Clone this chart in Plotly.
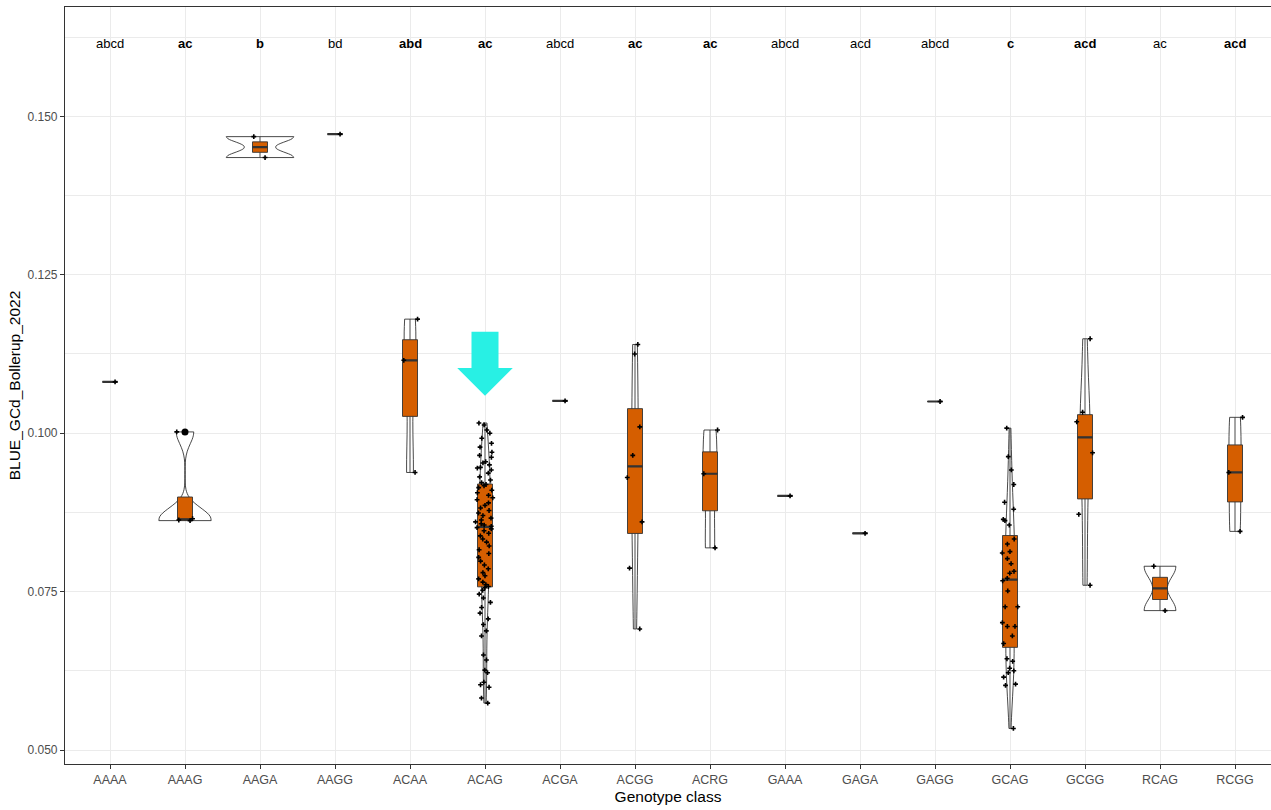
import numpy as np
import plotly.graph_objects as go

# ---------------- data ----------------
categories = ["AAAA", "AAAG", "AAGA", "AAGG", "ACAA", "ACAG", "ACGA", "ACGG",
              "ACRG", "GAAA", "GAGA", "GAGG", "GCAG", "GCGG", "RCAG", "RCGG"]

vals_AAAA = [0.1081]
vals_AAAG = [0.0862, 0.0863, 0.0865, 0.1002]
vals_AAGA = [0.1435, 0.1468]
vals_AAGG = [0.1472]
vals_ACAA = [0.0938, 0.1115, 0.1180]
vals_ACAG = [0.0574, 0.0582, 0.0599, 0.0603, 0.0607, 0.0622, 0.0626, 0.0642, 0.0650, 0.0680,
             0.0688, 0.0698, 0.0707, 0.0716, 0.0725, 0.0733, 0.0740, 0.0746, 0.0752, 0.0756,
             0.0758, 0.0761, 0.0765, 0.0770, 0.0775, 0.0780, 0.0786, 0.0792, 0.0798, 0.0804,
             0.0810, 0.0816, 0.0822, 0.0828, 0.0833, 0.0838, 0.0842, 0.0846, 0.0849, 0.0851,
             0.0853, 0.0855, 0.0857, 0.0860, 0.0863, 0.0866, 0.0870, 0.0874, 0.0878, 0.0882,
             0.0886, 0.0890, 0.0895, 0.0898, 0.0902, 0.0906, 0.0910, 0.0914, 0.0917, 0.0919,
             0.0922, 0.0926, 0.0931, 0.0937, 0.0942, 0.0945, 0.0946, 0.0950, 0.0953, 0.0955,
             0.0962, 0.0965, 0.0970, 0.0978, 0.0984, 0.0992, 0.1000, 0.1005, 0.1013, 0.1016]
vals_ACGA = [0.1051]
vals_ACGG = [0.0691, 0.0787, 0.0860, 0.0930, 0.0965, 0.1010, 0.1125, 0.1140]
vals_ACRG = [0.0819, 0.0936, 0.1005]
vals_GAAA = [0.0901]
vals_GAGA = [0.0842]
vals_GAGG = [0.1050]
vals_GCAG = [0.0534, 0.0602, 0.0604, 0.0615, 0.0622, 0.0625, 0.0629, 0.0640, 0.0644, 0.0668,
             0.0680, 0.0695, 0.0695, 0.0701, 0.0726, 0.0726, 0.0751, 0.0767, 0.0771, 0.0779,
             0.0782, 0.0794, 0.0802, 0.0811, 0.0813, 0.0825, 0.0833, 0.0855, 0.0862, 0.0864,
             0.0880, 0.0891, 0.0919, 0.0942, 0.0963, 0.1008]
vals_GCGG = [0.0760, 0.0872, 0.0969, 0.1018, 0.1033, 0.1149]
vals_RCAG = [0.0720, 0.0790]
vals_RCGG = [0.0845, 0.0938, 0.1025]

group_values = [vals_AAAA, vals_AAAG, vals_AAGA, vals_AAGG, vals_ACAA, vals_ACAG,
                vals_ACGA, vals_ACGG, vals_ACRG, vals_GAAA, vals_GAGA, vals_GAGG,
                vals_GCAG, vals_GCGG, vals_RCAG, vals_RCGG]

letters = ["abcd", "ac", "b", "bd", "abd", "ac", "abcd", "ac",
           "ac", "abcd", "acd", "abcd", "c", "acd", "ac", "acd"]
letters_bold = [False, True, True, False, True, True, False, True,
                True, False, False, False, True, True, False, True]
letter_y = 0.1615

highlight_category = "ACAG"

# ---------------- styles ----------------
FONT = "Liberation Sans, Arial, sans-serif"
BOX_FILL = "#D55E00"
DARK = "#333333"
GRID = "#EBEBEB"
TICK_COL = "#4D4D4D"
ARROW_COL = "#28F0E4"
BOX_W = 0.2
JITTER_W = 0.26
VIOLIN_MAX_W = 0.9


def bw_nrd0(x):
    x = np.asarray(x, float)
    n = len(x)
    hi = np.std(x, ddof=1)
    q75, q25 = np.quantile(x, [0.75, 0.25])
    lo = min(hi, (q75 - q25) / 1.34)
    if lo <= 0:
        lo = hi if hi > 0 else (abs(x[0]) if x[0] != 0 else 1.0)
    return 0.9 * lo * n ** (-0.2)


def max_density(x, bw):
    x = np.asarray(x, float)
    grid = np.linspace(x.min(), x.max(), 512)
    z = (grid[:, None] - x[None, :]) / bw
    d = np.exp(-0.5 * z ** 2).sum(axis=1) / (len(x) * bw * np.sqrt(2 * np.pi))
    return d.max()


# area-scaled violin widths (like ggplot scale = "area")
bws = {}
dens = {}
for cat, v in zip(categories, group_values):
    if len(v) >= 2:
        b = bw_nrd0(v)
        bws[cat] = b
        dens[cat] = max_density(v, b)
global_max = max(dens.values())

fig = go.Figure()

# violins
for cat, v in zip(categories, group_values):
    if len(v) < 2:
        continue
    fig.add_trace(go.Violin(
        x=[cat] * len(v), y=v, width=VIOLIN_MAX_W * dens[cat] / global_max,
        scalemode="width", spanmode="hard", bandwidth=bws[cat],
        fillcolor="white", line=dict(color="#1a1a1a", width=0.8),
        points=False, box_visible=False, meanline_visible=False,
        showlegend=False, hoverinfo="skip"))

# boxes (ggplot style stats)
outlier_x, outlier_y = [], []
for cat, v in zip(categories, group_values):
    a = np.asarray(v, float)
    q1, med, q3 = np.quantile(a, [0.25, 0.5, 0.75])
    iqr = q3 - q1
    inside = a[(a >= q1 - 1.5 * iqr) & (a <= q3 + 1.5 * iqr)]
    lo, hi = inside.min(), inside.max()
    for o in a[(a < q1 - 1.5 * iqr) | (a > q3 + 1.5 * iqr)]:
        outlier_x.append(cat)
        outlier_y.append(o)
    fig.add_trace(go.Box(
        x=[cat], q1=[q1], median=[med], q3=[q3], lowerfence=[lo], upperfence=[hi],
        width=BOX_W, whiskerwidth=0, fillcolor=BOX_FILL,
        line=dict(color=DARK, width=0.9), boxpoints=False,
        showlegend=False, hoverinfo="skip"))
    # thicker median line
    fig.add_trace(go.Box(
        x=[cat], q1=[med], median=[med], q3=[med], lowerfence=[med], upperfence=[med],
        width=BOX_W, whiskerwidth=0, fillcolor="rgba(0,0,0,0)",
        line=dict(color=DARK, width=2.2), boxpoints=False,
        showlegend=False, hoverinfo="skip"))

# jittered points
for cat, v in zip(categories, group_values):
    fig.add_trace(go.Box(
        x=[cat] * len(v), y=v, width=JITTER_W, boxpoints="all", jitter=1, pointpos=0,
        fillcolor="rgba(0,0,0,0)", line=dict(color="rgba(0,0,0,0)", width=0),
        marker=dict(color="black", size=4, symbol="cross"),
        showlegend=False, hoverinfo="skip"))

# outliers
fig.add_trace(go.Scatter(
    x=outlier_x, y=outlier_y, mode="markers",
    marker=dict(color="black", size=7, symbol="circle"),
    showlegend=False, hoverinfo="skip"))

# letters
for cat, txt, bold in zip(categories, letters, letters_bold):
    fig.add_annotation(
        x=cat, y=letter_y, text=f"<b>{txt}</b>" if bold else txt,
        showarrow=False, xanchor="center", yanchor="middle",
        font=dict(family=FONT, size=13, color="black"))

# cyan highlight arrow above the chosen category
ax = categories.index(highlight_category)
shaft_half, head_half = 0.18, 0.37
y_top, y_neck, y_tip = 0.1160, 0.1103, 0.1059
path = (f"M {ax - shaft_half} {y_top} L {ax + shaft_half} {y_top} "
        f"L {ax + shaft_half} {y_neck} L {ax + head_half} {y_neck} "
        f"L {ax} {y_tip} L {ax - head_half} {y_neck} "
        f"L {ax - shaft_half} {y_neck} Z")
fig.add_shape(type="path", path=path, xref="x", yref="y",
              fillcolor=ARROW_COL, line=dict(width=0), layer="above")

fig.update_layout(
    width=1271, height=810,
    margin=dict(l=65, r=0, t=7, b=46),
    paper_bgcolor="white", plot_bgcolor="white",
    boxmode="overlay", violinmode="overlay",
    font=dict(family=FONT),
    showlegend=False,
    xaxis=dict(
        type="category", categoryorder="array", categoryarray=categories,
        range=[-0.6, 15.48],
        showgrid=True, gridcolor=GRID, gridwidth=1.1,
        showline=True, mirror=True, linecolor=DARK, linewidth=1.1,
        ticks="outside", ticklen=4, tickcolor=DARK, tickwidth=1.1,
        tickfont=dict(family=FONT, size=12.5, color=TICK_COL),
        title=dict(text="Genotype class", standoff=5,
                   font=dict(family=FONT, size=15.5, color="black")),
        zeroline=False,
    ),
    yaxis=dict(
        range=[0.04779, 0.16726],
        tickmode="linear", tick0=0.05, dtick=0.025, tickformat=".3f",
        showgrid=True, gridcolor=GRID, gridwidth=1.1,
        minor=dict(tickmode="linear", tick0=0.0625, dtick=0.025,
                   showgrid=True, gridcolor=GRID, gridwidth=0.55, ticks=""),
        showline=True, mirror=False, linecolor=DARK, linewidth=1.1,
        ticks="outside", ticklen=4, tickcolor=DARK, tickwidth=1.1,
        tickfont=dict(family=FONT, size=12, color=TICK_COL),
        title=dict(text="BLUE_GCd_Bollerup_2022", standoff=3,
                   font=dict(family=FONT, size=15.5, color="black")),
        zeroline=False,
    ),
)

fig.write_html("out.html", config={"displayModeBar": False},
               post_script="document.body.style.margin='0';document.body.style.overflow='hidden';")
